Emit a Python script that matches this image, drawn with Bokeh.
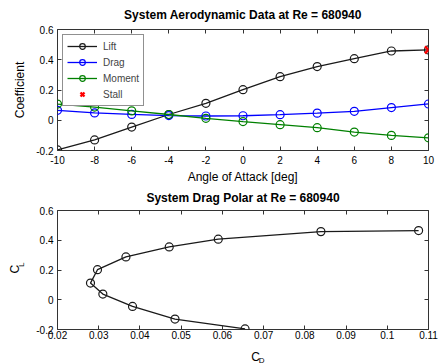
import math
from bokeh.plotting import figure
from bokeh.layouts import column, row
from bokeh.models import (LinearAxis, FixedTicker, PrintfTickFormatter, Legend, LegendItem,
                          Range1d, CustomJSTickFormatter)
from bokeh.core.properties import value
from bokeh.embed import file_html
from bokeh.resources import INLINE

# ---- data ----
alpha = [-10, -8, -6, -4, -2, 0, 2, 4, 6, 8, 10]
lift = [-0.196, -0.130, -0.045, 0.038, 0.112, 0.202, 0.288, 0.355, 0.407, 0.458, 0.465]
drag = [0.0655, 0.0485, 0.0382, 0.0310, 0.0280, 0.0297, 0.0366, 0.0471, 0.0590, 0.0839, 0.1076]
moment = [0.107, 0.087, 0.062, 0.038, 0.013, -0.009, -0.029, -0.049, -0.078, -0.100, -0.116]
stall_alpha = [10]
stall_cl = [0.465]
x_ticks_top = [-10, -8, -6, -4, -2, 0, 2, 4, 6, 8, 10]
y_ticks = [-0.2, 0, 0.2, 0.4, 0.6]
x_ticks_bot = [0.02, 0.03, 0.04, 0.05, 0.06, 0.07, 0.08, 0.09, 0.10, 0.11]

FONT = "Liberation Sans"
BLACK = "#1a1a1a"
BLUE = "#0000ff"
GREEN = "#008000"
RED = "#ff0000"
TICK = "#333333"


def mirror_axis(ticks, gap_font=None):
    ax = LinearAxis(ticker=FixedTicker(ticks=ticks),
                    formatter=CustomJSTickFormatter(code="return ''"),
                    major_label_standoff=0, axis_line_color=None, major_tick_in=4,
                    major_tick_out=0, minor_tick_line_color=None,
                    major_tick_line_color=TICK, axis_label_standoff=0)
    if gap_font:
        ax.axis_label = " "
        ax.axis_label_text_font_size = gap_font
    return ax


def style(p, xticks, yticks, label_standoff, gap_font):
    xa, ya = p.xaxis[0], p.yaxis[0]
    for ax in (xa, ya):
        ax.axis_line_color = None
        ax.major_tick_in = 4
        ax.major_tick_out = 0
        ax.major_tick_line_color = TICK
        ax.minor_tick_line_color = None
        ax.major_label_text_font = FONT
        ax.major_label_text_font_size = "10px"
        ax.major_label_text_color = "black"
        ax.axis_label_text_font = FONT
        ax.axis_label_text_font_size = "12px"
        ax.axis_label_text_font_style = "normal"
        ax.axis_label_text_color = "black"
        ax.formatter = PrintfTickFormatter(format="%g")
    xa.ticker = FixedTicker(ticks=xticks)
    ya.ticker = FixedTicker(ticks=yticks)
    xa.major_label_standoff = label_standoff
    ya.major_label_standoff = 4
    p.add_layout(mirror_axis(xticks, gap_font), "above")
    p.add_layout(mirror_axis(yticks), "right")
    p.outline_line_color = TICK
    p.outline_line_width = 1
    p.xgrid.visible = False
    p.ygrid.visible = False
    p.title.text_font = FONT
    p.title.text_font_size = "12px"
    p.title.text_font_style = "bold"
    p.title.align = "center"
    p.title.text_color = "black"
    p.title.standoff = 0
    p.background_fill_color = "white"
    p.border_fill_color = "white"
    return xa, ya


def strip(w, h):
    s = figure(width=w, height=h, x_range=Range1d(0, w), y_range=Range1d(0, h),
               min_border=0, output_backend="svg", toolbar_location=None)
    s.axis.visible = False
    s.grid.visible = False
    s.outline_line_color = None
    s.background_fill_color = "white"
    s.border_fill_color = "white"
    return s


# ---- top figure ----
p1 = figure(frame_width=371, frame_height=121, min_border_left=57, min_border_right=12,
            min_border_top=29, min_border_bottom=34,
            x_range=Range1d(-10, 10), y_range=Range1d(-0.2, 0.6),
            title="System Aerodynamic Data at Re = 680940",
            output_backend="svg", toolbar_location=None)
xa1, ya1 = style(p1, x_ticks_top, y_ticks, 5, "4px")
xa1.axis_label = "Angle of Attack [deg]"
xa1.axis_label_standoff = 3
ya1.axis_label = "Coefficient"
ya1.axis_label_standoff = 6

items = []
for vals, col, name in [(lift, BLACK, "Lift"), (drag, BLUE, "Drag"), (moment, GREEN, "Moment")]:
    l = p1.line(alpha, vals, line_color=col, line_width=1.3)
    c = p1.scatter(alpha, vals, marker="circle", size=8, line_color=col, fill_color=None,
                   line_width=1.2)
    items.append(LegendItem(label=name, renderers=[l, c]))
s = p1.scatter(stall_alpha, stall_cl, marker="x", size=10, line_color=RED, line_width=2.4)
items.append(LegendItem(label="Stall", renderers=[s]))

leg = Legend(items=items, location="top_left", label_text_font=FONT,
             label_text_font_size="10px", label_height=14, glyph_height=14,
             glyph_width=30, spacing=2, padding=4, margin=5, label_standoff=6,
             border_line_color="#222222", border_line_width=1,
             background_fill_color="white", background_fill_alpha=1.0)
p1.add_layout(leg)

# ---- bottom figure ----
p2 = figure(frame_width=371, frame_height=119, min_border_left=27, min_border_right=12,
            min_border_top=24, min_border_bottom=17,
            x_range=Range1d(0.02, 0.11), y_range=Range1d(-0.2, 0.6),
            title="System Drag Polar at Re = 680940",
            output_backend="svg", toolbar_location=None)
xa2, ya2 = style(p2, x_ticks_bot, y_ticks, 1, "3px")
p2.line(drag, lift, line_color=BLACK, line_width=1.3)
p2.scatter(drag, lift, marker="circle", size=8, line_color=BLACK, fill_color=None, line_width=1.2)

# strips holding the subscripted axis labels C_L and C_D
left = strip(30, 160)
left.text(x=[14], y=[81], text=["C"], angle=math.pi / 2, text_font=value(FONT),
          text_font_size="12px", text_align="center", text_baseline="middle", text_color="black")
left.text(x=[21], y=[87], text=["L"], angle=math.pi / 2, text_font=value(FONT),
          text_font_size="8px", text_align="center", text_baseline="middle", text_color="black")

bottom = strip(440, 20)
bottom.text(x=[235], y=[10], text=["C"], text_font=value(FONT), text_font_size="12px",
            text_align="center", text_baseline="middle", text_color="black")
bottom.text(x=[242], y=[6], text=["D"], text_font=value(FONT), text_font_size="8px",
            text_align="center", text_baseline="middle", text_color="black")

layout = column(p1, row(left, p2, spacing=0), bottom, spacing=0)
open("out.html", "w").write(file_html(layout, INLINE))
